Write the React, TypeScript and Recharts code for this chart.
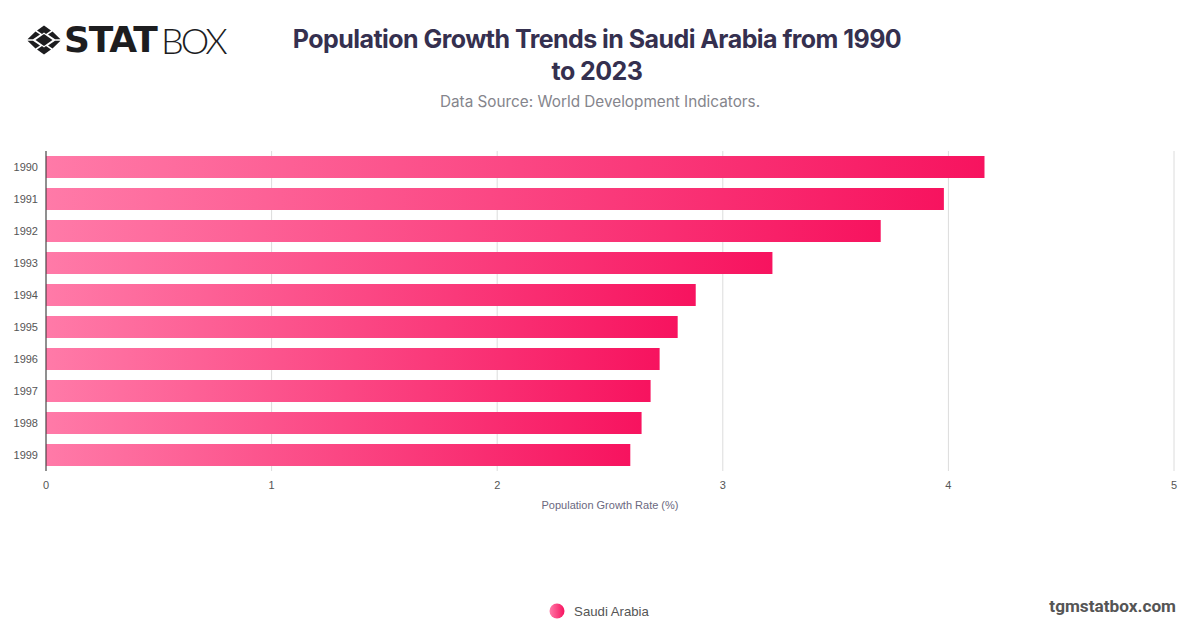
import React from "react";
import { BarChart, Bar, XAxis, YAxis, CartesianGrid, Legend } from "recharts";

const years = ["1990", "1991", "1992", "1993", "1994", "1995", "1996", "1997", "1998", "1999"];
const growthRates = [4.16, 3.98, 3.7, 3.22, 2.88, 2.8, 2.72, 2.68, 2.64, 2.59];
const xTicks = [0, 1, 2, 3, 4, 5];
const seriesName = "Saudi Arabia";
const titleLines = ["Population Growth Trends in Saudi Arabia from 1990", "to 2023"];
const subtitle = "Data Source: World Development Indicators.";
const axisTitle = "Population Growth Rate (%)";
const watermark = "tgmstatbox.com";

const data = years.map((year, i) => ({ year, rate: growthRates[i] }));
const sans = "'Liberation Sans', Arial, sans-serif";

function Logo() {
  return (
    <div style={{ position: "absolute", left: 26, top: 25, height: 30, width: 210 }}>
      <svg width="36" height="30" viewBox="0 0 36 30" style={{ position: "absolute", left: 0, top: 0 }}>
        <path d="M18 9 L26.5 15 L18 21 L9.5 15 Z" fill="#1d1d1f" />
        <path d="M18 0.5 L25 5.5 L20 9 L18 7.5 L16 9 L11 5.5 Z" fill="#1d1d1f" />
        <path d="M18 29.5 L25 24.5 L20 21 L18 22.5 L16 21 L11 24.5 Z" fill="#1d1d1f" />
        <path d="M9.5 6.5 L14 9.5 L7 14.3 L1.5 14.3 Z M26.5 6.5 L34.5 14.3 L29 14.3 L22 9.5 Z" fill="#1d1d1f" />
        <path d="M9.5 23.5 L14 20.5 L7 15.7 L1.5 15.7 Z M26.5 23.5 L34.5 15.7 L29 15.7 L22 20.5 Z" fill="#1d1d1f" />
      </svg>
      <span style={{ position: "absolute", left: 38, top: 0, fontFamily: "'DejaVu Sans', sans-serif", fontWeight: 700, fontSize: 36, lineHeight: "30px", color: "#1d1d1f", letterSpacing: -1.2 }}>STAT</span>
      <span style={{ position: "absolute", left: 135, top: 0, fontFamily: "Lato, sans-serif", fontWeight: 300, fontSize: 36, lineHeight: "30px", color: "#1d1d1f", letterSpacing: -3 }}>BOX</span>
    </div>
  );
}

function LegendContent() {
  return (
    <div style={{ display: "flex", alignItems: "center", justifyContent: "center", fontFamily: sans, fontSize: 13.2, color: "#555" }}>
      <svg width="16" height="16" style={{ marginRight: 9 }}>
        <circle cx="8" cy="8" r="7.5" fill="url(#legendGradient)" />
      </svg>
      <span>{seriesName}</span>
    </div>
  );
}

export default function App() {
  return (
    <div style={{ position: "absolute", left: 0, top: 0, width: 1200, height: 628, background: "#fff", overflow: "hidden" }}>
      <Logo />
      <div style={{ position: "absolute", left: 247, width: 700, top: 23, textAlign: "center", fontFamily: "Inter, sans-serif", fontWeight: 700, fontSize: 25, lineHeight: "32px", color: "#35304f", letterSpacing: -0.55 }}>
        {titleLines.map((line) => (<div key={line}>{line}</div>))}
      </div>
      <div style={{ position: "absolute", left: 250, width: 700, top: 92, textAlign: "center", fontFamily: "Inter, sans-serif", fontSize: 15.3, lineHeight: "20px", color: "#85858c" }}>
        {subtitle}
      </div>
      <BarChart
        width={1200}
        height={628}
        data={data}
        layout="vertical"
        barSize={22}
        margin={{ top: 151, right: 26, bottom: 0, left: 0 }}
        style={{ position: "absolute", left: 0, top: 0 }}
      >
        <defs>
          <linearGradient id="barGradient" x1="0" y1="0" x2="1" y2="0">
            <stop offset="0%" stopColor="#ff7aa8" />
            <stop offset="100%" stopColor="#f7135f" />
          </linearGradient>
          <linearGradient id="legendGradient" x1="1" y1="0" x2="0" y2="0">
            <stop offset="0%" stopColor="#f7135f" />
            <stop offset="100%" stopColor="#ff7aa8" />
          </linearGradient>
        </defs>
        <CartesianGrid horizontal={false} stroke="#dcdcdc" strokeWidth={1} />
        <XAxis
          type="number"
          domain={[0, 5]}
          ticks={xTicks}
          height={141}
          axisLine={false}
          tickLine={false}
          tickMargin={4}
          interval={0}
          tick={{ fontFamily: sans, fontSize: 11, fill: "#555" }}
          label={{ value: axisTitle, position: "insideTop", offset: 30, fontFamily: sans, fontSize: 11, fill: "#6b6880" }}
        />
        <YAxis
          type="category"
          dataKey="year"
          width={46}
          axisLine={{ stroke: "#333", strokeWidth: 1 }}
          tickLine={false}
          tickMargin={2}
          interval={0}
          tick={{ fontFamily: sans, fontSize: 11, fill: "#555" }}
        />
        <Legend content={<LegendContent />} verticalAlign="bottom" wrapperStyle={{ position: "absolute", left: 0, width: 1198, top: 603, bottom: "auto" }} />
        <Bar dataKey="rate" name={seriesName} fill="url(#barGradient)" isAnimationActive={false} />
      </BarChart>
      <div style={{ position: "absolute", right: 24, top: 596, fontFamily: "Roboto, sans-serif", fontWeight: 700, fontSize: 17.2, lineHeight: "20px", color: "#555" }}>
        {watermark}
      </div>
    </div>
  );
}
